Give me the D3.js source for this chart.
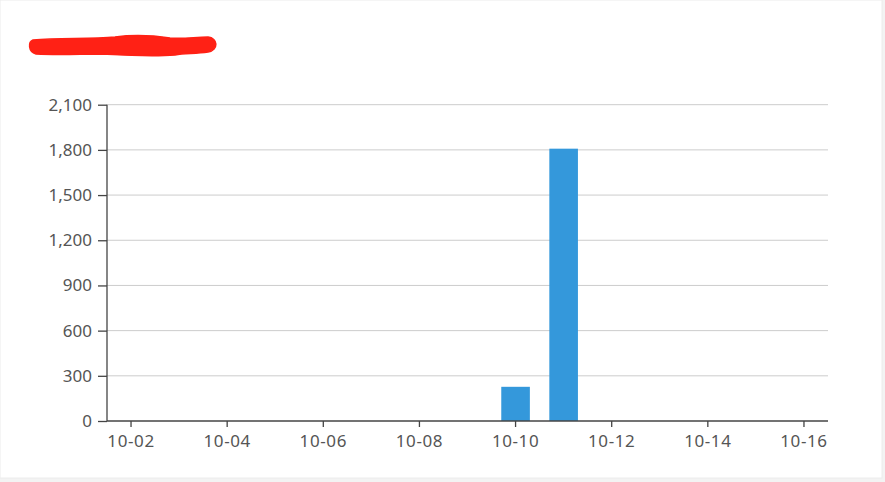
<!DOCTYPE html>
<html><head><meta charset="utf-8">
<script src="https://cdn.jsdelivr.net/npm/d3@7"></script>
<style>
html,body{margin:0;padding:0;background:#f3f3f3;}
svg{display:block;}
</style></head>
<body>
<svg id="chart" width="885" height="482"></svg>
<script>
const days = ["10-02","10-03","10-04","10-05","10-06","10-07","10-08","10-09","10-10","10-11","10-12","10-13","10-14","10-15","10-16"];
const values = [0,0,0,0,0,0,0,0,227,1808,0,0,0,0,0];
const xTickLabels = ["10-02","10-04","10-06","10-08","10-10","10-12","10-14","10-16"];
const yTicks = [0,300,600,900,1200,1500,1800,2100];

const svg = d3.select("#chart");
// card
svg.append("rect").attr("x",0).attr("y",0).attr("width",882).attr("height",478)
  .attr("fill","#fff").attr("stroke","#ececec");

// redacted title scribble
svg.append("path")
  .attr("d","M33,40 C60,38 90,39 115,37 C130,35 150,35 170,38 C185,39 195,37 208,37 C218,38 219,50 208,52 C195,54 185,53 175,55 C150,57 120,55 100,54 C80,54 60,55 36,54 C28,52 28,42 33,40 Z")
  .attr("fill","#ff2115").attr("stroke","#ff2115").attr("stroke-width",1.5).attr("stroke-linejoin","round");

const m = {left:107, right:828, top:104.7, bottom:421};
const x = d3.scaleBand().domain(days).range([m.left,m.right]).paddingInner(0.405).paddingOuter(0.2025);
const y = d3.scaleLinear().domain([0,2100]).range([m.bottom,m.top]);

const font = "'Noto Sans', 'Open Sans', sans-serif";

// grid
svg.append("g").selectAll("line").data(yTicks.filter(d=>d>0)).join("line")
  .attr("x1",m.left).attr("x2",m.right)
  .attr("y1",d=>y(d)).attr("y2",d=>y(d))
  .attr("stroke","#cccccc").attr("stroke-width",1);

// bars
svg.append("g").selectAll("rect").data(days.map((d,i)=>({d,v:values[i]})).filter(o=>o.v>0)).join("rect")
  .attr("x",o=>x(o.d)).attr("width",x.bandwidth())
  .attr("y",o=>y(o.v)).attr("height",o=>y(0)-y(o.v))
  .attr("fill","#3498db");

// y axis
const ya = svg.append("g").attr("transform",`translate(${m.left},0)`)
  .call(d3.axisLeft(y).tickValues(yTicks).tickFormat(d3.format(",")).tickSize(9).tickPadding(6));
// x axis
const xa = svg.append("g").attr("transform",`translate(0,${m.bottom})`)
  .call(d3.axisBottom(x).tickValues(xTickLabels).tickSize(6).tickSizeOuter(0).tickPadding(8));

[ya,xa].forEach(a=>{
  a.select(".domain").attr("stroke","#444").attr("stroke-width",1.3);
  a.selectAll(".tick line").attr("stroke","#444").attr("stroke-width",1.3);
  a.selectAll("text").attr("fill","#555").style("font-family",font).style("font-size","17px");
});
xa.selectAll("text").style("letter-spacing","0.6px");
ya.select(".domain").attr("d",`M0,${m.top}V${m.bottom}`);
xa.select(".domain").attr("d",`M${m.left},0H${m.right}`);
</script>
</body></html>
